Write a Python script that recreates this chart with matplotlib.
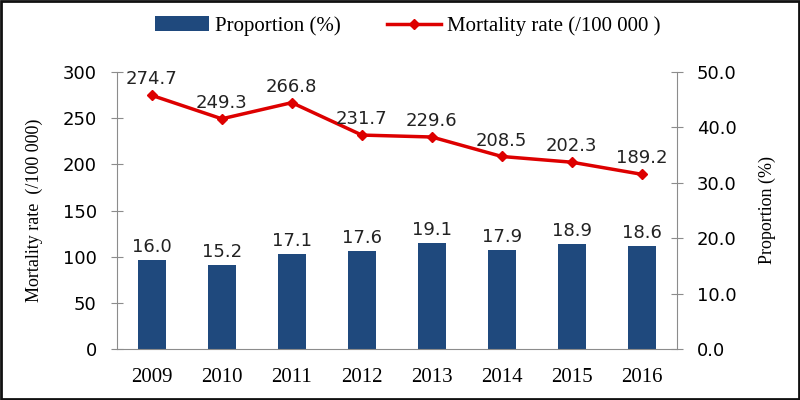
import numpy as np
import matplotlib.pyplot as plt
from matplotlib.patches import Rectangle

years = ['2009', '2010', '2011', '2012', '2013', '2014', '2015', '2016']
proportion = [16.0, 15.2, 17.1, 17.6, 19.1, 17.9, 18.9, 18.6]
mortality = [274.7, 249.3, 266.8, 231.7, 229.6, 208.5, 202.3, 189.2]

bar_color = '#1F497D'
line_color = '#DD0000'
axis_gray = '#8C8C8C'
serif = 'Liberation Serif'

fig = plt.figure(figsize=(8, 4), dpi=100)
ax1 = fig.add_axes([0.146, 0.1275, 0.7, 0.6925])
ax2 = ax1.twinx()
ax1.set_zorder(ax2.get_zorder() + 1)
ax1.patch.set_visible(False)

x = np.arange(len(years))

bars = ax2.bar(x, proportion, width=0.4, color=bar_color, label='Proportion (%)')
for xi, v in zip(x, proportion):
    ax2.annotate(f'{v:.1f}', (xi, v), xytext=(0, 3), textcoords='offset points',
                 ha='center', va='bottom', fontsize=13, color='#222222')

line, = ax1.plot(x, mortality, color=line_color, lw=2.5, marker='D', ms=5,
                 label='Mortality rate (/100 000 )')
for xi, v in zip(x, mortality):
    ax1.annotate(f'{v:.1f}', (xi, v), xytext=(0, 5), textcoords='offset points',
                 ha='center', va='bottom', fontsize=13, color='#222222')

ax1.set_xlim(-0.5, len(years) - 0.5)
ax1.set_ylim(0, 300)
ax1.set_yticks(np.arange(0, 301, 50))
ax2.set_ylim(0, 50)
ax2.set_yticks(np.arange(0, 51, 10))
ax2.set_yticklabels([f'{t:.1f}' for t in np.arange(0, 51, 10)])

ax1.set_xticks(x)
ax1.set_xticklabels(years, fontfamily=serif, fontsize=15)
ax1.tick_params(axis='x', length=0, pad=14)
ax1.tick_params(axis='y', direction='inout', length=9, color=axis_gray,
                labelsize=13, pad=10)
ax2.tick_params(axis='y', direction='inout', length=9, color=axis_gray,
                labelsize=13, pad=10)

for ax in (ax1, ax2):
    ax.spines['top'].set_visible(False)
    for s in ('left', 'right', 'bottom'):
        ax.spines[s].set_color(axis_gray)
ax1.spines['right'].set_visible(False)
ax2.spines['left'].set_visible(False)
ax2.spines['bottom'].set_visible(False)

ax1.set_ylabel('Mortality rate  (/100 000)', fontfamily=serif, fontsize=13, labelpad=14)
ax2.set_ylabel('Proportion (%)', fontfamily=serif, fontsize=13, labelpad=16)

fig.legend(handles=[bars, line], loc='center', bbox_to_anchor=(0.51, 0.935), ncol=2,
           frameon=False, prop={'family': serif, 'size': 15}, handlelength=2.6,
           columnspacing=2.2, handletextpad=0.3)

fig.add_artist(Rectangle((0.0015, 0.003), 0.997, 0.994, transform=fig.transFigure,
                         fill=False, edgecolor='#111111', lw=2))

fig.savefig('out.png', dpi=100)
